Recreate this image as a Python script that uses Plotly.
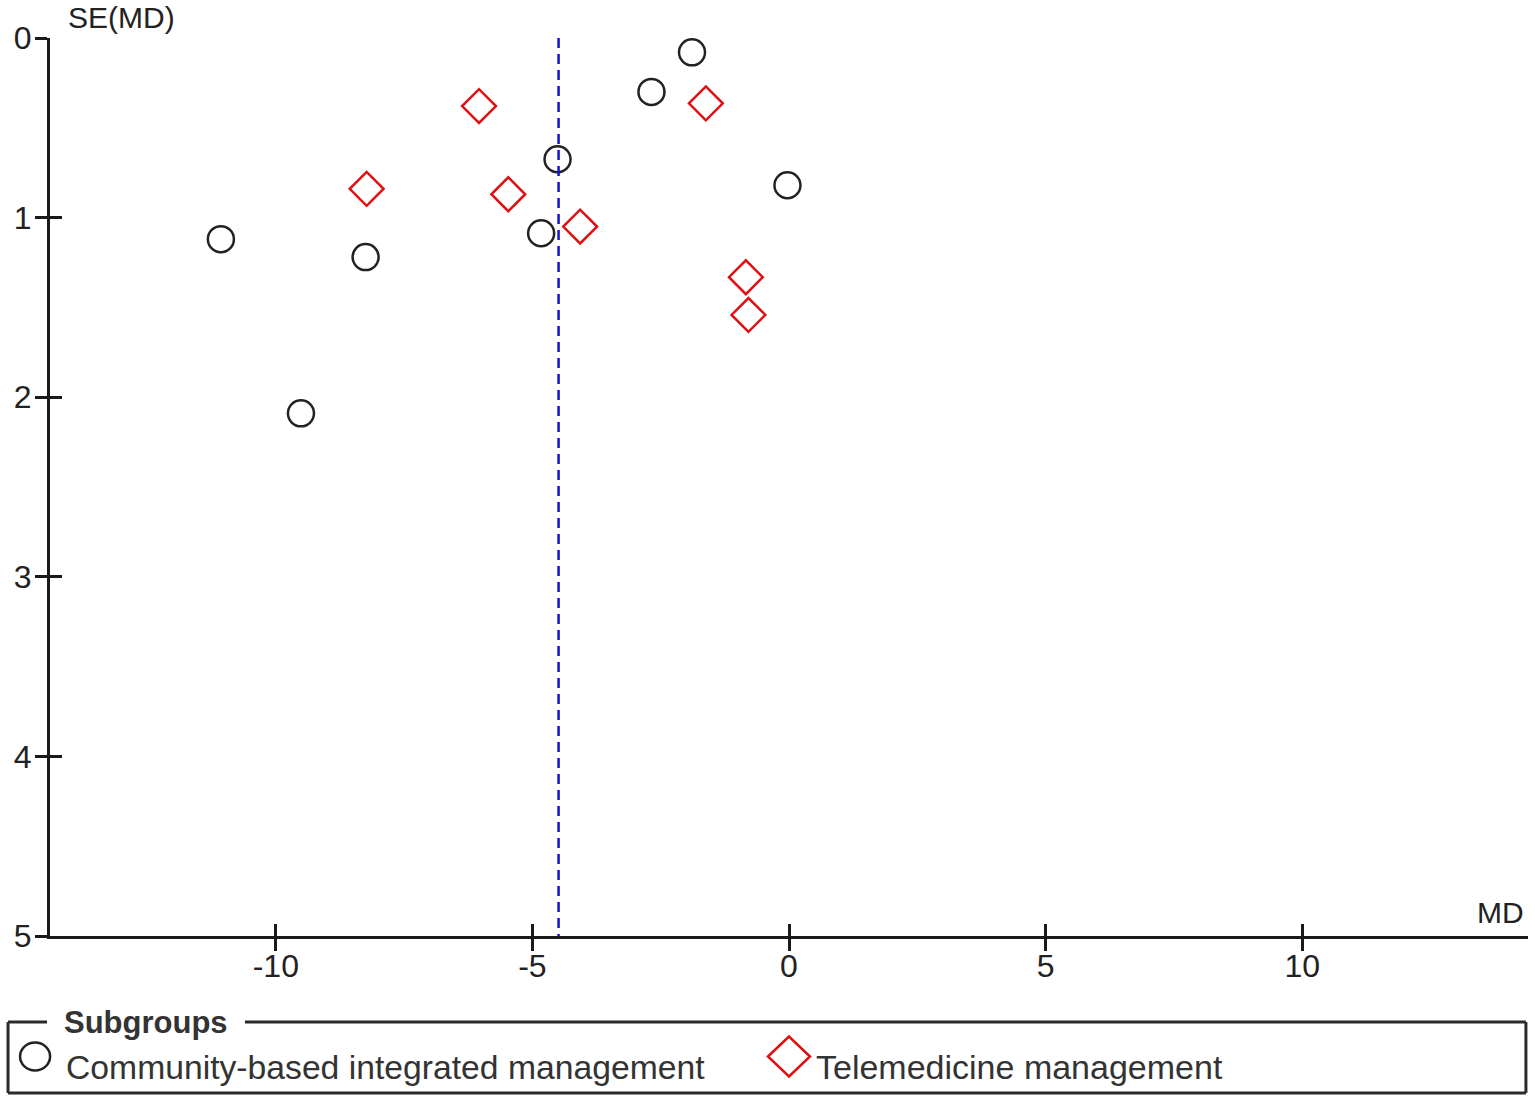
import plotly.graph_objects as go

# ---- data ----
community_md = [-1.89, -2.68, -4.51, -0.03, -4.83, -11.07, -8.25, -9.51]
community_se = [0.08, 0.30, 0.675, 0.82, 1.087, 1.12, 1.22, 2.09]
tele_md = [-6.04, -1.62, -8.23, -5.47, -4.07, -0.84, -0.79]
tele_se = [0.379, 0.364, 0.84, 0.87, 1.05, 1.332, 1.542]
pooled_md = -4.49
x_ticks = [-10, -5, 0, 5, 10]
x_ticktext = ["-10", "-5", "0", "5", "10"]
y_ticks = [0, 1, 2, 3, 4, 5]
y_ticktext = ["0", "1", "2", "3", "4", "5"]
series_names = ["Community-based integrated management", "Telemedicine management"]
legend_title = "Subgroups"

FONT = "Liberation Sans, Arial, sans-serif"
AX = "#1a1a1a"
C_COMM = "#222222"
C_TELE = "#e01010"

fig = go.Figure()

# pooled estimate line (on overlay axes with identical ranges)
fig.add_trace(go.Scatter(
    x=[pooled_md, pooled_md], y=[y_ticks[0], y_ticks[-1]],
    mode="lines", line=dict(color="#1515d0", width=2.5, dash="10px,6px"),
    xaxis="x2", yaxis="y2", showlegend=False, hoverinfo="skip"))

fig.add_trace(go.Scatter(
    x=community_md, y=community_se, mode="markers", name=series_names[0],
    marker=dict(symbol="circle-open", size=26, color=C_COMM,
                line=dict(width=2.5, color=C_COMM)), showlegend=False))
fig.add_trace(go.Scatter(
    x=tele_md, y=tele_se, mode="markers", name=series_names[1],
    marker=dict(symbol="diamond-open", size=26, color=C_TELE,
                line=dict(width=2.5, color=C_TELE)), showlegend=False))

xr = [-14.4, 14.4]
yr = [5, 0]
common_x = dict(range=xr, showgrid=False, zeroline=False)
common_y = dict(range=yr, showgrid=False, zeroline=False)

fig.update_layout(
    width=1535, height=1102,
    margin=dict(l=50, r=7, t=38, b=166),
    paper_bgcolor="white", plot_bgcolor="white",
    font=dict(family=FONT, size=32, color="#222222"),
    xaxis=dict(**common_x, tickvals=x_ticks, ticktext=x_ticktext,
               ticks="outside", ticklen=12, tickwidth=2.5, tickcolor=AX,
               showline=True, linewidth=3, linecolor=AX,
               ticklabelstandoff=-12,
               tickfont=dict(size=32, color="#222222")),
    yaxis=dict(**common_y, tickvals=y_ticks, ticktext=y_ticktext,
               ticks="outside", ticklen=12, tickwidth=2.5, tickcolor=AX,
               showline=True, linewidth=3, linecolor=AX,
               ticklabelstandoff=-3,
               tickfont=dict(size=32, color="#222222")),
    xaxis2=dict(**common_x, overlaying="x", anchor="y", side="bottom",
                tickvals=x_ticks, ticks="inside", ticklen=12, tickwidth=2.5,
                tickcolor=AX, showticklabels=False, showline=False),
    yaxis2=dict(**common_y, overlaying="y", anchor="x", side="left",
                tickvals=y_ticks, ticks="inside", ticklen=12, tickwidth=2.5,
                tickcolor=AX, showticklabels=False, showline=False),
    showlegend=False,
)

# legend frame (fieldset style)
frame = dict(type="line", xref="paper", yref="paper",
             line=dict(color="#2a2a2a", width=3))
L, R, T, B = -0.0284, 0.9986, -0.0958, -0.1748
gl, gr = -0.002, 0.1319
fig.add_shape(**frame, x0=L, x1=L, y0=B, y1=T)
fig.add_shape(**frame, x0=R, x1=R, y0=B, y1=T)
fig.add_shape(**frame, x0=L, x1=R, y0=B, y1=B)
fig.add_shape(**frame, x0=L, x1=gl, y0=T, y1=T)
fig.add_shape(**frame, x0=gr, x1=R, y0=T, y1=T)

fig.add_annotation(text="<b>" + legend_title + "</b>", xref="paper", yref="paper",
                   x=0.0078, y=T, xanchor="left", yanchor="middle",
                   showarrow=False, font=dict(size=31, color="#333333"))

# legend keys (drawn as pixel-sized shapes) and labels
key_y = -0.1342
fig.add_shape(type="circle", xref="paper", yref="paper",
              xsizemode="pixel", ysizemode="pixel",
              xanchor=-0.0101, yanchor=key_y, x0=-15, x1=15, y0=-14, y1=14,
              line=dict(color=C_COMM, width=2.5))
fig.add_shape(type="path", xref="paper", yref="paper",
              xsizemode="pixel", ysizemode="pixel",
              xanchor=0.5, yanchor=key_y,
              path="M -21 0 L 0 20 L 21 0 L 0 -20 Z",
              line=dict(color=C_TELE, width=2.5))
text_y = -0.1459
fig.add_annotation(text=series_names[0], xref="paper", yref="paper",
                   x=0.0092, y=text_y, xanchor="left", yanchor="middle",
                   showarrow=False, font=dict(size=33.7, color="#333333"))
fig.add_annotation(text=series_names[1], xref="paper", yref="paper",
                   x=0.5172, y=text_y, xanchor="left", yanchor="middle",
                   showarrow=False, font=dict(size=34, color="#333333"))

# axis titles
fig.add_annotation(text="SE(MD)", xref="paper", yref="paper",
                   x=0.011, y=1.0223, xanchor="left", yanchor="middle",
                   showarrow=False, font=dict(size=30, color="#222222"))
fig.add_annotation(text="MD", xref="paper", yref="paper",
                   x=0.9986, y=0.0267, xanchor="right", yanchor="middle",
                   showarrow=False, font=dict(size=30, color="#222222"))

fig.write_html("out.html", config={"displayModeBar": False},
               post_script="document.body.style.margin='0px';")
